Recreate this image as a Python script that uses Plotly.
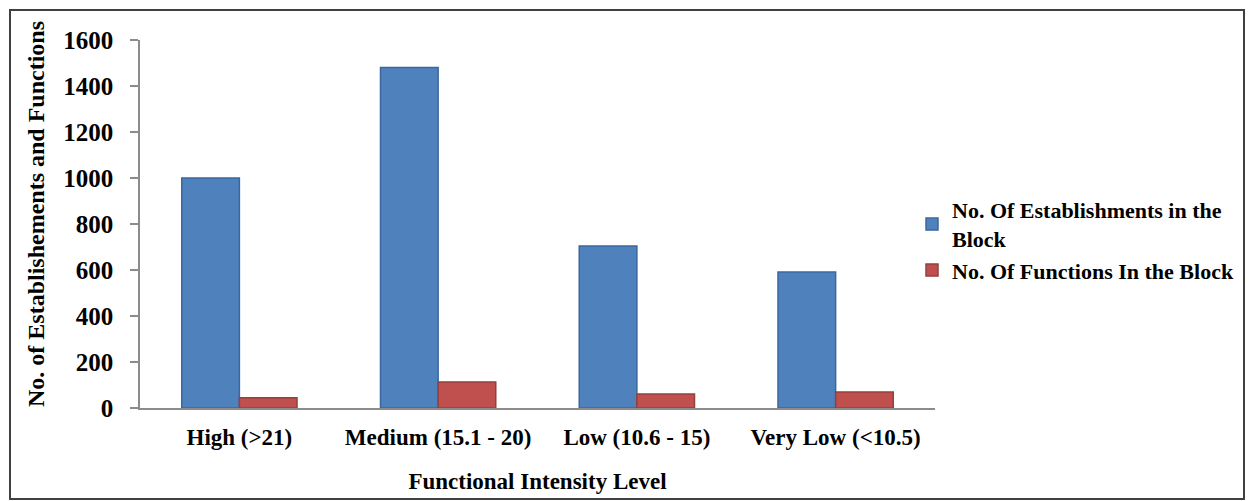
import plotly.graph_objects as go

categories = ["High (>21)", "Medium (15.1 - 20)", "Low (10.6 - 15)", "Very Low (<10.5)"]
establishments = [1000, 1480, 704, 591]
functions = [45, 113, 61, 70]
series_names = ["No. Of Establishments in the<br>Block", "No. Of Functions In the Block"]
y_ticks = [0, 200, 400, 600, 800, 1000, 1200, 1400, 1600]
y_title = "No. of Establishements and Functions"
x_title = "Functional Intensity Level"

OFF = 8  # default page body margin
W, H = 1254 - 2 * OFF, 501 - OFF
# desired plot area in page pixels: x 140..935, y 40..408
L = 140 - OFF
T = 40 - OFF
R = W - (935 - OFF)
B = H - (408 - OFF)
pw = W - L - R
ph = H - T - B

font_family = "Liberation Serif, Times New Roman, serif"

fig = go.Figure()
fig.add_trace(go.Bar(x=categories, y=establishments, name=series_names[0],
                     marker=dict(color="#4F81BD", line=dict(color="#3A67A0", width=1.5))))
fig.add_trace(go.Bar(x=categories, y=functions, name=series_names[1],
                     marker=dict(color="#C0504D", line=dict(color="#94403D", width=1.5))))

def px_to_paper_x(px):
    return (px - OFF - L) / pw

def py_to_paper_y(py):
    return (H - B - (py - OFF)) / ph

fig.add_shape(type="rect", xref="paper", yref="paper",
              x0=px_to_paper_x(10), x1=px_to_paper_x(1244),
              y0=py_to_paper_y(499), y1=py_to_paper_y(10),
              line=dict(color="#404040", width=2), fillcolor="rgba(0,0,0,0)", layer="below")

fig.add_annotation(text="<b>" + y_title + "</b>", textangle=-90,
                   xref="paper", yref="paper",
                   x=px_to_paper_x(36), y=py_to_paper_y(214),
                   xanchor="center", yanchor="middle", showarrow=False,
                   font=dict(family=font_family, size=24, color="black"))

fig.update_layout(
    width=W, height=H,
    margin=dict(l=L, r=R, t=T, b=B, autoexpand=False),
    barmode="group", bargap=0.42, bargroupgap=0.0,
    plot_bgcolor="white", paper_bgcolor="white",
    font=dict(family=font_family, color="black", size=22),
    xaxis=dict(
        showline=True, linecolor="#8C8C8C", linewidth=1.5,
        ticks="", ticklabelstandoff=8,
        tickfont=dict(family=font_family, size=23, weight="bold"),
        title=dict(text="<b>" + x_title + "</b>", font=dict(family=font_family, size=23), standoff=24),
        showgrid=False,
    ),
    yaxis=dict(
        range=[0, 1600], tickvals=y_ticks,
        showline=True, linecolor="#8C8C8C", linewidth=1.5,
        ticks="outside", ticklen=8, tickcolor="#8C8C8C", tickwidth=1.5,
        ticklabelstandoff=12,
        tickfont=dict(family=font_family, size=25, weight="bold"),
        showgrid=False, zeroline=False,
    ),
    legend=dict(
        x=px_to_paper_x(912), y=py_to_paper_y(240), xanchor="left", yanchor="middle",
        font=dict(family=font_family, size=22, weight="bold"),
        itemwidth=30, tracegroupgap=4, bgcolor="rgba(0,0,0,0)",
    ),
    showlegend=True,
)

fig.write_html("out.html")
